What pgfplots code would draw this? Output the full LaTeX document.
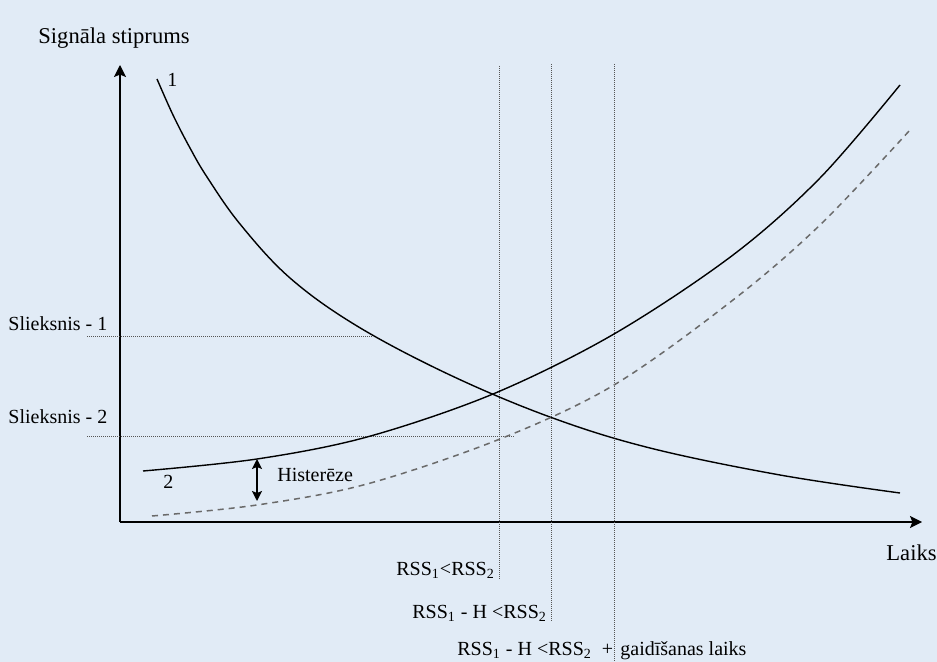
\documentclass[border=0pt]{standalone}
\usepackage{pgfplots}
\pgfplotsset{compat=1.18}
\usepackage{fontspec}
\setmainfont{Liberation Serif}
\usetikzlibrary{arrows.meta}
\definecolor{bg}{HTML}{E1EBF6}
\definecolor{dotc}{HTML}{555555}
\definecolor{dashc}{HTML}{6A6A6A}
\begin{document}
\begin{tikzpicture}
\useasboundingbox (0,0) rectangle (468.5pt,331pt);
\clip (0,0) rectangle (468.5pt,331pt);
\fill[bg] (0,0) rectangle (468.5pt,331pt);
\begin{axis}[
  at={(0,0)}, anchor=south west,
  width=468.5pt, height=331pt, scale only axis,
  xmin=0, xmax=937, ymin=0, ymax=662, y dir=reverse,
  hide axis, clip=false,
  every node/.style={font=\fontsize{10.5}{12}\selectfont},
]
% axes
\addplot[black, line width=0.75pt, -{Stealth[length=6pt,width=6pt,inset=1.2pt]}] coordinates {(120,522) (120,65)};
\addplot[black, line width=0.75pt, -{Stealth[length=6pt,width=6pt,inset=1.2pt]}] coordinates {(120,522) (922,522)};
% threshold lines
\addplot[dotc, line width=0.5pt, dash pattern=on 0.5pt off 0.5pt] coordinates {(87,337) (372,337)};
\addplot[dotc, line width=0.5pt, dash pattern=on 0.5pt off 0.5pt] coordinates {(87,437) (514,437)};
% vertical dotted lines
\addplot[dotc, line width=0.5pt, dash pattern=on 0.5pt off 0.5pt] coordinates {(499,66) (499,580)};
\addplot[dotc, line width=0.5pt, dash pattern=on 0.5pt off 0.5pt] coordinates {(551,64) (551,622)};
\addplot[dotc, line width=0.5pt, dash pattern=on 0.5pt off 0.5pt] coordinates {(614,64) (614,662)};
% curve 1
\addplot[black, line width=0.7pt, smooth, tension=0.6] coordinates {
(157,79)(173,115)(190,148)(207,177)(240,224)(290,278)(357,326)(450,375)(550,417)(650,448)(780,475)(900,493)};
% curve 2
\addplot[black, line width=0.7pt, smooth, tension=0.55] coordinates {
(143,471)(257,459)(367,437)(493,394)(614,334)(733,255)(820,178)(900,85)};
% dashed curve
\addplot[dashc, line width=0.75pt, smooth, tension=0.55, dash pattern=on 3pt off 2.5pt] coordinates {
(152,516)(257,505)(367,484)(500,439)(614,385)(733,300)(820,225)(910,130)};
% hysteresis arrow
\addplot[black, line width=0.75pt, {Stealth[length=5pt,width=5pt,inset=1pt]}-{Stealth[length=5pt,width=5pt,inset=1pt]}] coordinates {(257,459) (257,501)};
% labels
\node[anchor=base west, inner sep=0, font=\fontsize{11.3}{13}\selectfont] at (axis cs:38,44) {Signāla stiprums};
\node[anchor=base west, inner sep=0] at (axis cs:167,87) {1};
\node[anchor=base west, inner sep=0] at (axis cs:163,488) {2};
\node[anchor=base west, inner sep=0] at (axis cs:8,331) {Slieksnis - 1};
\node[anchor=base west, inner sep=0] at (axis cs:8,424) {Slieksnis - 2};
\node[anchor=base west, inner sep=0] at (axis cs:277,481) {Histerēze};
\node[anchor=base west, inner sep=0, font=\fontsize{11.3}{13}\selectfont] at (axis cs:886,560) {Laiks};
\node[anchor=base west, inner sep=0] at (axis cs:396,575.5) {RSS\textsubscript{1}<RSS\textsubscript{2}};
\node[anchor=base west, inner sep=0] at (axis cs:412,618) {RSS\textsubscript{1} - H <RSS\textsubscript{2}};
\node[anchor=base west, inner sep=0] at (axis cs:457,655) {RSS\textsubscript{1} - H <RSS\textsubscript{2}\ \ +};
\node[anchor=base west, inner sep=0] at (axis cs:620,655) {gaidīšanas laiks};
\end{axis}
\end{tikzpicture}
\end{document}
